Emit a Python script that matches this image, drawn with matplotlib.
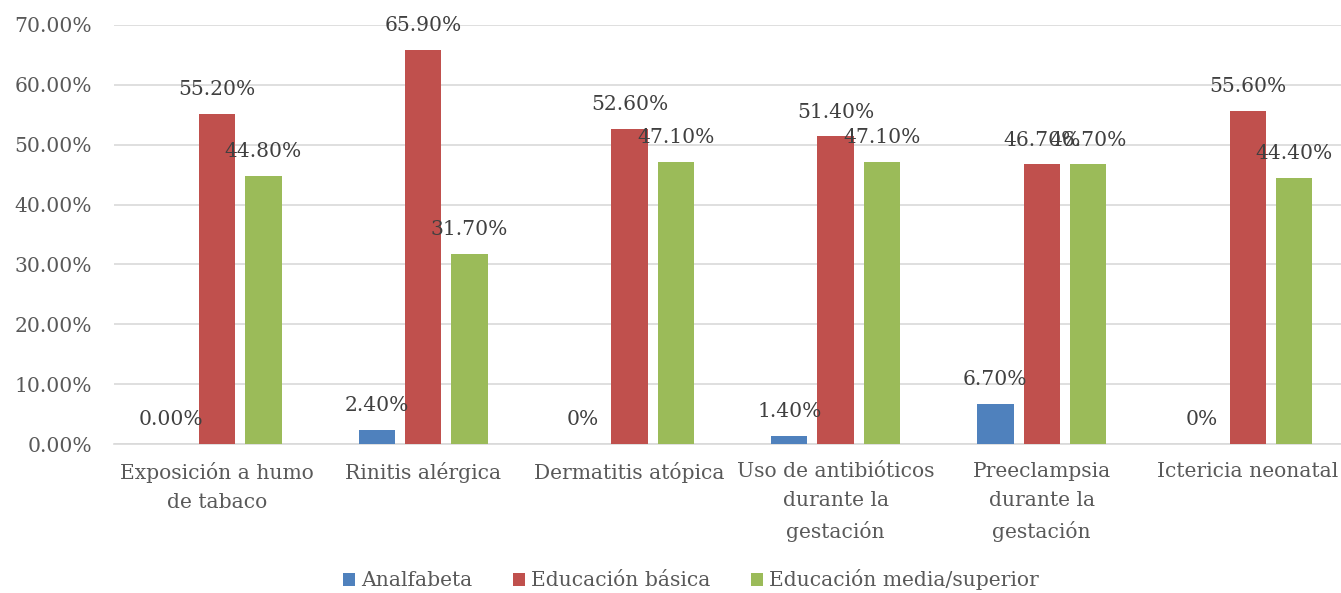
import numpy as np
import matplotlib.pyplot as plt
from matplotlib.ticker import FuncFormatter

categorias = ['Exposición a humo\nde tabaco', 'Rinitis alérgica', 'Dermatitis atópica',
              'Uso de antibióticos\ndurante la\ngestación', 'Preeclampsia\ndurante la\ngestación',
              'Ictericia neonatal']
analfabeta = [0.0, 2.4, 0.0, 1.4, 6.7, 0.0]
basica = [55.2, 65.9, 52.6, 51.4, 46.7, 55.6]
media_sup = [44.8, 31.7, 47.1, 47.1, 46.7, 44.4]
# decimales mostrados en cada etiqueta de Analfabeta
dec_analfabeta = [2, 2, 0, 2, 2, 0]

series = [('Analfabeta', analfabeta, '#4f81bd'),
          ('Educación básica', basica, '#c0504d'),
          ('Educación media/superior', media_sup, '#9bbb59')]

plt.rcParams['font.family'] = ['DejaVu Serif']
fs = 14.6
txt = '#404040'

fig = plt.figure(figsize=(13.41, 5.93), dpi=100)
W, H = 1341, 593
ax = fig.add_axes([114/W, 1-444/H, 1237/W, 419/H])

x = np.arange(len(categorias))
w = 0.176
off = 0.225
for i, (nombre, vals, col) in enumerate(series):
    pos = x + (i-1)*off
    ax.bar(pos, np.array(vals)/100, w, color=col, label=nombre, zorder=3)
    for j, v in enumerate(vals):
        d = dec_analfabeta[j] if i == 0 else 2
        ax.annotate(f'{v:.{d}f}%', (pos[j], v/100), xytext=(0, 17.5), textcoords='offset points',
                    ha='center', va='center', fontsize=fs, color=txt, zorder=4)

ax.set_xlim(-0.5, len(categorias)-0.5)
ax.set_ylim(0, 0.7)
ax.set_yticks(np.arange(0, 0.71, 0.1))
ax.yaxis.set_major_formatter(FuncFormatter(lambda v, p: f'{v*100:.2f}%'))
ax.grid(axis='y', color='#d9d9d9', lw=1.2, zorder=0)
for s in ['top', 'right', 'left']:
    ax.spines[s].set_visible(False)
ax.spines['bottom'].set_color('#d9d9d9')
ax.spines['bottom'].set_linewidth(1.2)
ax.set_xticks(x)
ax.set_xticklabels(categorias, fontsize=fs, color='#595959', linespacing=1.65, va='top')
ax.tick_params(axis='x', length=0, pad=13)
ax.tick_params(axis='y', length=0, pad=16, labelsize=fs, labelcolor='#595959')

fig.legend(loc='center', bbox_to_anchor=(691/W, 1-580/H), ncol=3, frameon=False,
           fontsize=fs, labelcolor='#595959', handlelength=0.6, handleheight=0.6,
           handletextpad=0.3, columnspacing=2.0)

fig.savefig('out.png', dpi=100)
